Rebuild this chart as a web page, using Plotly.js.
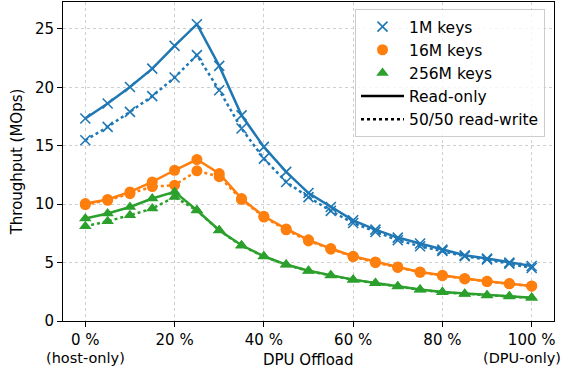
<!DOCTYPE html>
<html>
<head>
<meta charset="utf-8">
<script src="https://cdn.plot.ly/plotly-3.0.1.min.js"></script>
<style>html,body{margin:0;padding:0;background:#fff;}#chart{width:565px;height:372px;}</style>
</head>
<body>
<div id="chart"></div>
<script>
const offload = [0,5,10,15,20,25,30,35,40,45,50,55,60,65,70,75,80,85,90,95,100];
const keys1M_ro  = [17.33,18.61,20.03,21.6,23.55,25.4,21.83,17.6,14.9,12.76,10.95,9.76,8.62,7.82,7.14,6.63,6.11,5.62,5.34,5.0,4.71];
const keys1M_rw  = [15.47,16.61,17.9,19.24,20.84,22.75,19.75,16.47,13.9,11.9,10.6,9.42,8.39,7.62,6.91,6.4,5.99,5.54,5.26,4.91,4.54];
const keys16M_ro = [10.05,10.4,11.05,11.9,12.9,13.82,12.62,10.48,8.96,7.88,6.95,6.2,5.54,5.05,4.62,4.2,3.91,3.63,3.4,3.2,3.0];
const keys16M_rw = [9.95,10.33,10.9,11.5,11.62,12.85,12.35,10.4,8.9,7.8,6.85,6.15,5.5,5.0,4.58,4.17,3.88,3.6,3.38,3.18,2.98];
const keys256M_ro = [8.77,9.2,9.76,10.48,11.05,9.48,7.77,6.48,5.54,4.83,4.3,3.91,3.54,3.25,2.97,2.69,2.48,2.34,2.2,2.11,2.0];
const keys256M_rw = [8.1,8.54,9.05,9.62,10.62,9.45,7.74,6.45,5.52,4.81,4.28,3.89,3.52,3.23,2.95,2.67,2.46,2.32,2.18,2.09,1.98];
const seriesNames = ["1M keys","16M keys","256M keys"];
const modeNames = ["Read-only","50/50 read-write"];
const xTickVals = [0,20,40,60,80,100];
const xTickText = ["0 %","20 %","40 %","60 %","80 %","100 %"];
const endLabels = ["(host-only)","(DPU-only)"];

const colors = ["#1f77b4","#ff7f0e","#2ca02c"];
const symbols = ["x-thin","circle","triangle-up"];
const sizes = [10,11,11];
const roData = [keys1M_ro, keys16M_ro, keys256M_ro];
const rwData = [keys1M_rw, keys16M_rw, keys256M_rw];

const traces = [];
function mk(i, y, dash){
  return {
    x: offload, y: y, type: 'scatter', mode: 'lines+markers', showlegend: false,
    line: {color: colors[i], width: 2.5, dash: dash},
    marker: {symbol: symbols[i], size: sizes[i], color: colors[i],
             line: {color: colors[i], width: i===0 ? 1.6 : 0}}
  };
}
for (let i = 0; i < 3; i++) {
  traces.push(mk(i, rwData[i], 'dot'));
  traces.push(mk(i, roData[i], 'solid'));
}
for (let i = 0; i < 3; i++) {
  traces.push({x:[null], y:[null], type:'scatter', mode:'markers', name: seriesNames[i],
    marker:{symbol: symbols[i], size: sizes[i], color: colors[i], line:{color: colors[i], width: i===0?1.6:0}}});
}
traces.push({x:[null], y:[null], type:'scatter', mode:'lines', name: modeNames[0], line:{color:'black', width:2.5, dash:'solid'}});
traces.push({x:[null], y:[null], type:'scatter', mode:'lines', name: modeNames[1], line:{color:'black', width:2.5, dash:'dot'}});

const font = {family: 'DejaVu Sans, sans-serif', size: 15, color: '#000'};
const subFont = {family: 'DejaVu Sans, sans-serif', size: 14.5, color: '#000'};
const legFont = {family: 'DejaVu Sans, sans-serif', size: 15.5, color: '#000'};
const layout = {
  width: 565, height: 372,
  margin: {l: 63, r: 11, t: 2, b: 51},
  paper_bgcolor: '#fff', plot_bgcolor: '#fff',
  font: font,
  showlegend: true,
  legend: {x: 0.9817, y: 0.978, xanchor: 'right', yanchor: 'top',
           bgcolor: 'rgba(255,255,255,0.8)', bordercolor: '#cccccc', borderwidth: 1,
           font: legFont, itemwidth: 43, tracegroupgap: 0},
  xaxis: {range: [-5, 105], tickvals: xTickVals, ticktext: xTickText,
          showline: true, linecolor: '#000', linewidth: 1, mirror: true,
          ticks: 'outside', ticklen: 5, tickcolor: '#000',
          showgrid: true, gridcolor: '#cfcfcf', griddash: 'dot', gridwidth: 1,
          zeroline: false, tickfont: font, ticklabeloverflow: 'allow'},
  yaxis: {range: [0, 27.3], tickvals: [0,5,10,15,20,25],
          showline: true, linecolor: '#000', linewidth: 1, mirror: true,
          ticks: 'outside', ticklen: 5, tickcolor: '#000',
          showgrid: true, gridcolor: '#cfcfcf', griddash: 'dot', gridwidth: 1,
          zeroline: false, tickfont: font,
          title: {text: 'Throughput (MOps)', font: font, standoff: 8}},
  annotations: [
    {text: 'DPU Offload', xref: 'paper', yref: 'paper', x: 0.5, y: -0.122,
     xanchor: 'center', yanchor: 'middle', showarrow: false, font: font},
    {text: endLabels[0], xref: 'x', yref: 'paper', x: 0, y: -0.116,
     xanchor: 'center', yanchor: 'middle', showarrow: false, font: subFont},
    {text: endLabels[1], xref: 'paper', yref: 'paper', x: 1.0183, y: -0.116,
     xanchor: 'right', yanchor: 'middle', showarrow: false, font: subFont}
  ]
};
Plotly.newPlot('chart', traces, layout, {displayModeBar: false, staticPlot: true});
</script>
</body>
</html>
